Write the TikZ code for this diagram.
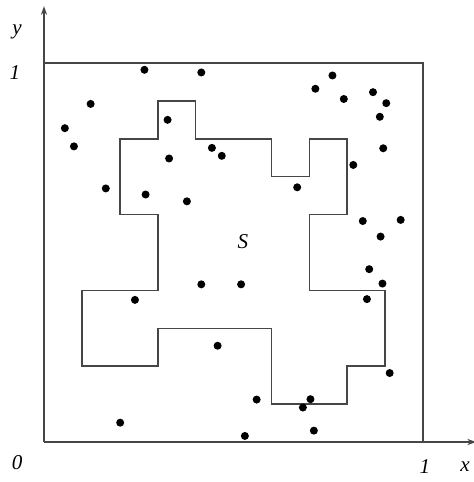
\documentclass[tikz,border=0pt]{standalone}
\usepackage{fontspec}
\setmainfont{Liberation Serif}
\usepackage{tikz}
\usetikzlibrary{arrows.meta}

\begin{document}
\begin{tikzpicture}[
    x=0.758cm, y=0.758cm,
    font=\large\itshape
]
% Define colors
\definecolor{linegray}{RGB}{70,70,70}

% Frame of the picture
\useasboundingbox (-1.161,-1.055) rectangle (11.319,11.662);

% Axes
\coordinate (O) at (0,0);
\coordinate (xend) at (11.4,0);
\coordinate (yend) at (0,11.5);
\draw[linegray, line width=0.9pt, -{Stealth[length=5pt,width=3.5pt]}] (O) -- (xend);
\draw[linegray, line width=0.9pt, -{Stealth[length=5pt,width=3.5pt]}] (O) -- (yend);

% Unit square
\draw[linegray, line width=0.9pt] (0,10) -- (10,10) -- (10,0);

% Axis labels
\node (ylab) at (-0.71,10.82) {y};
\node (yone) at (-0.77,9.76) {1};
\node (orig) at (-0.71,-0.53) {0};
\node (xone) at (10.05,-0.66) {1};
\node (xlab) at (11.11,-0.66) {x};

% Region S
\draw[linegray, line width=0.9pt]
    (3,9) -- (4,9) -- (4,8) -- (6,8) -- (6,7) -- (7,7) -- (7,8) -- (8,8)
    -- (8,6) -- (7,6) -- (7,4) -- (9,4) -- (9,2) -- (8,2) -- (8,1) -- (6,1)
    -- (6,3) -- (3,3) -- (3,2) -- (1,2) -- (1,4) -- (3,4) -- (3,6) -- (2,6)
    -- (2,8) -- (3,8) -- cycle;
\node (slab) at (5.25,5.28) {S};

% Random points
\foreach \px/\py in {
    2.65/9.82, 4.15/9.75, 1.23/8.92, 0.55/8.28, 0.79/7.80, 3.26/8.50,
    4.43/7.76, 4.69/7.55, 3.30/7.48, 1.63/6.69, 2.68/6.53, 3.77/6.35,
    7.61/9.67, 7.16/9.32, 7.91/9.05, 8.68/9.23, 9.03/8.94, 8.86/8.58,
    8.95/7.75, 8.16/7.31, 6.68/6.72, 8.41/5.83, 9.41/5.86, 8.88/5.42,
    4.15/4.16, 5.20/4.16, 2.40/3.75, 4.58/2.54, 2.01/0.51,
    8.58/4.56, 8.93/4.18, 8.52/3.77, 9.12/1.82, 5.61/1.12, 7.03/1.13,
    6.83/0.91, 7.12/0.30, 5.30/0.16}
    \fill[black] (\px,\py) circle (0.08cm);

\end{tikzpicture}
\end{document}
